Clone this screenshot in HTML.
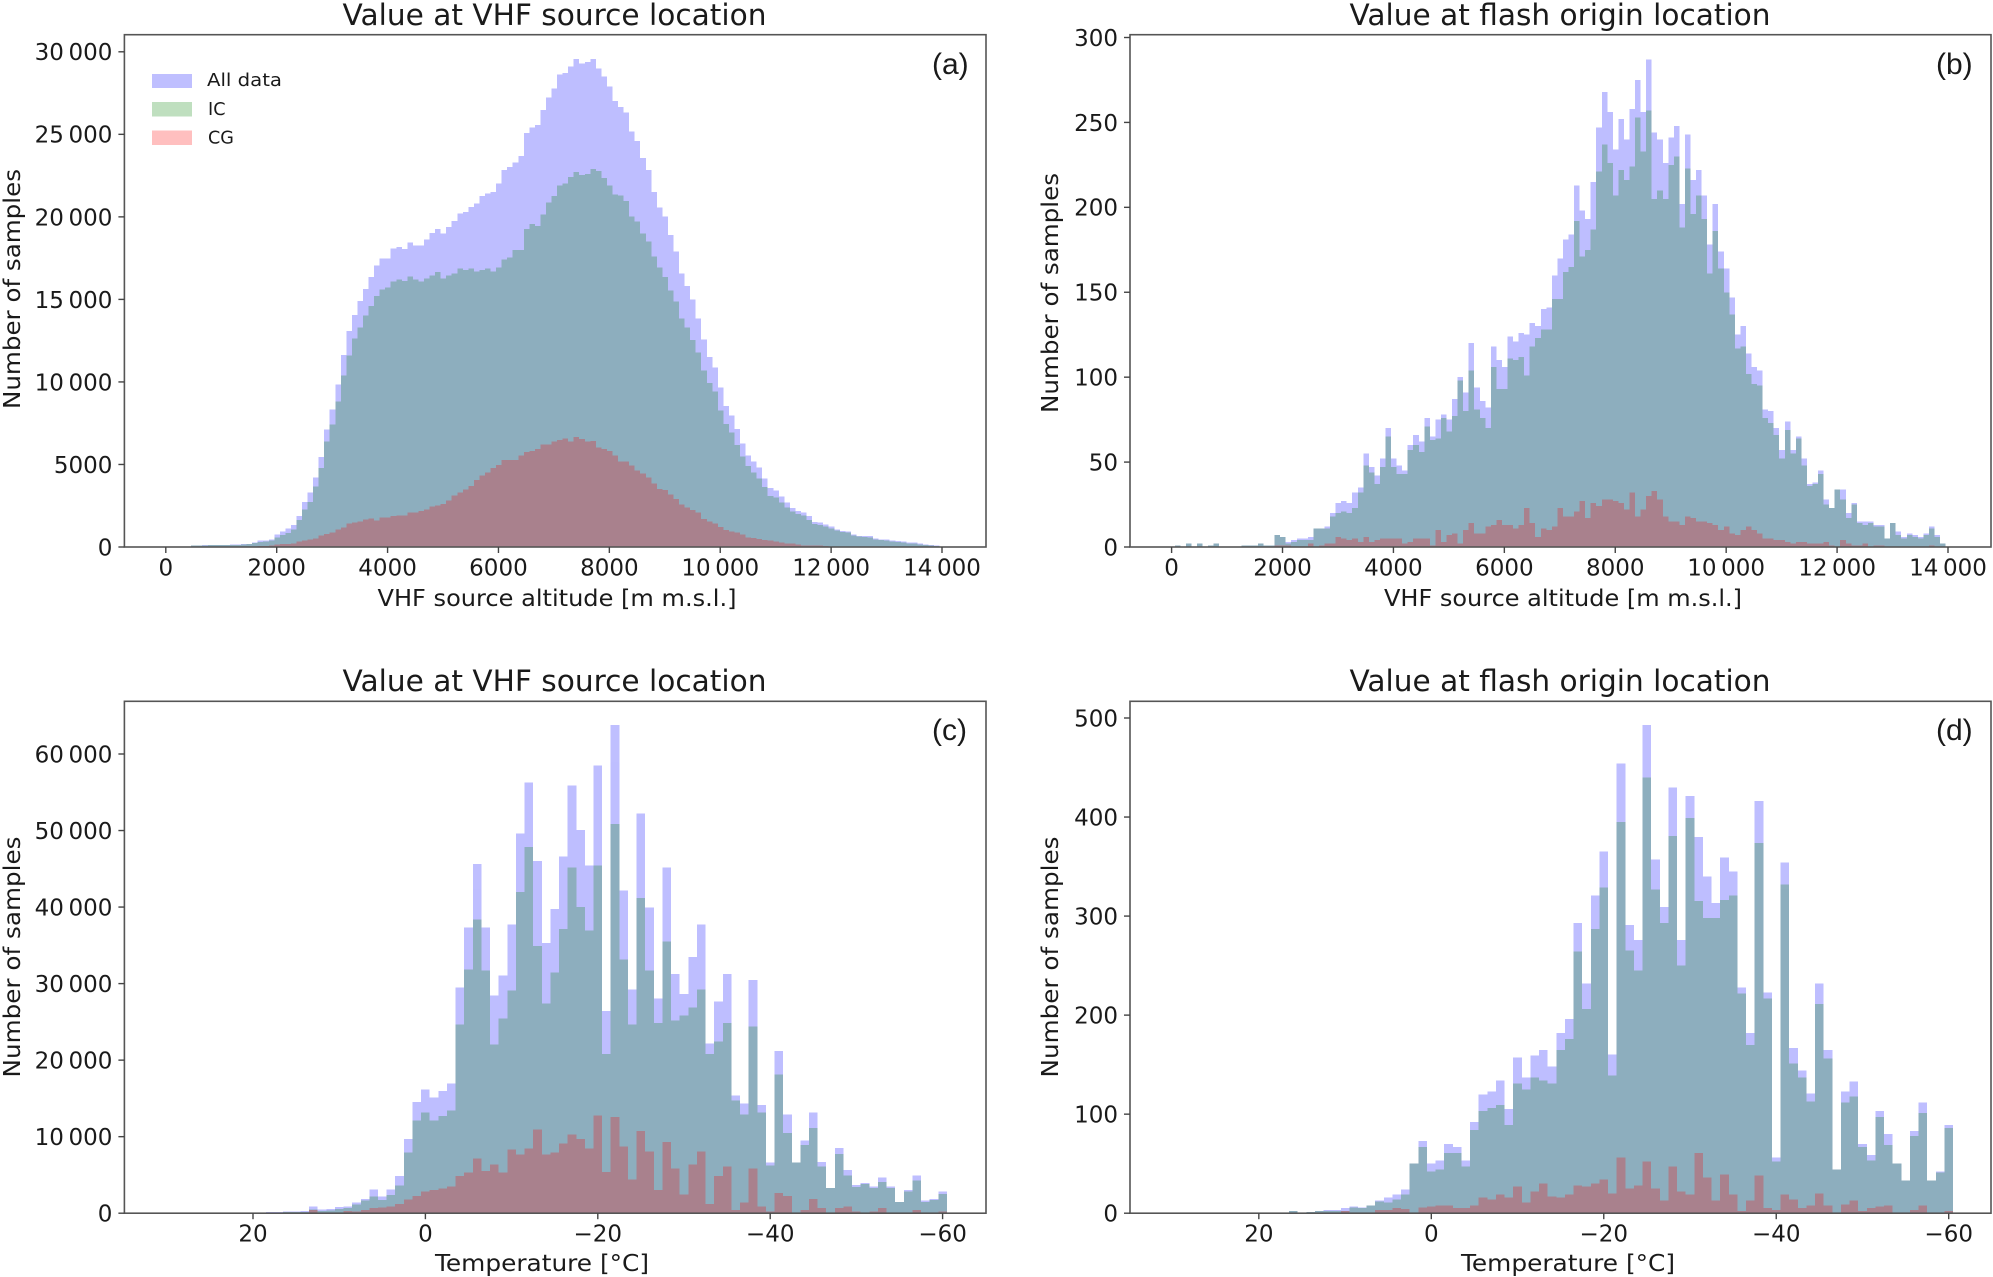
<!DOCTYPE html>
<html lang="en">
<head>
<meta charset="utf-8">
<title>VHF source and flash origin histograms</title>
<style>
html,body{margin:0;padding:0;background:#fff;}
svg{display:block;font-family:"DejaVu Sans","Liberation Sans",sans-serif;fill:#1a1a1a;}
.tick{font-size:23px;}
.title{font-size:29px;}
.axis-label{font-size:23px;}
.legend-text{font-size:17.6px;}
.tag{font-family:"Liberation Sans",sans-serif;font-size:30px;}
</style>
</head>
<body>
<svg id="figure" xmlns="http://www.w3.org/2000/svg" width="1993" height="1277" viewBox="0 0 1993 1277">
  <rect x="0" y="0" width="1993" height="1277" fill="#fff"/>

  <g id="panel-a"></g>
  <g id="panel-b"></g>
  <g id="panel-c"></g>
  <g id="panel-d"></g>

  <text class="title" x="554.5" y="25" text-anchor="middle" textLength="424" lengthAdjust="spacingAndGlyphs">Value at VHF source location</text>
  <text class="title" x="1560" y="25" text-anchor="middle" textLength="421" lengthAdjust="spacingAndGlyphs">Value at flash origin location</text>
  <text class="title" x="554.5" y="691" text-anchor="middle" textLength="424" lengthAdjust="spacingAndGlyphs">Value at VHF source location</text>
  <text class="title" x="1560" y="691" text-anchor="middle" textLength="421" lengthAdjust="spacingAndGlyphs">Value at flash origin location</text>

  <text class="axis-label" x="557" y="606" text-anchor="middle" textLength="359" lengthAdjust="spacingAndGlyphs">VHF source altitude [m m.s.l.]</text>
  <text class="axis-label" x="1563" y="606" text-anchor="middle" textLength="358" lengthAdjust="spacingAndGlyphs">VHF source altitude [m m.s.l.]</text>
  <text class="axis-label" x="542" y="1271" text-anchor="middle" textLength="214" lengthAdjust="spacingAndGlyphs">Temperature [°C]</text>
  <text class="axis-label" x="1568" y="1271" text-anchor="middle" textLength="214" lengthAdjust="spacingAndGlyphs">Temperature [°C]</text>

  <text class="axis-label" transform="translate(20 289) rotate(-90)" text-anchor="middle" textLength="240" lengthAdjust="spacingAndGlyphs">Number of samples</text>
  <text class="axis-label" transform="translate(1058 293) rotate(-90)" text-anchor="middle" textLength="240" lengthAdjust="spacingAndGlyphs">Number of samples</text>
  <text class="axis-label" transform="translate(20 957) rotate(-90)" text-anchor="middle" textLength="241" lengthAdjust="spacingAndGlyphs">Number of samples</text>
  <text class="axis-label" transform="translate(1058 957) rotate(-90)" text-anchor="middle" textLength="241" lengthAdjust="spacingAndGlyphs">Number of samples</text>

  <text class="tag" x="932" y="74">(a)</text>
  <text class="tag" x="1936" y="74">(b)</text>
  <text class="tag" x="932" y="740">(c)</text>
  <text class="tag" x="1936" y="740">(d)</text>

  <g>
    <g>
      <rect x="152" y="74" width="40" height="14" fill="#0000ff" fill-opacity="0.25"/>
      <text class="legend-text" x="207" y="86" textLength="75" lengthAdjust="spacingAndGlyphs">All data</text>
    </g>
    <g>
      <rect x="152" y="102" width="40" height="14.5" fill="#008000" fill-opacity="0.25"/>
      <text class="legend-text" x="208" y="115">IC</text>
    </g>
    <g>
      <rect x="152" y="130.5" width="40" height="14.5" fill="#ff0000" fill-opacity="0.25"/>
      <text class="legend-text" x="208" y="143.5">CG</text>
    </g>
  </g>
</svg>

<script>
// Panel (a): samples per 100 m altitude bin, first bin starts at 457 m
const aAll = [100,100,110,120,130,130,130,140,150,170,
190,280,380,380,460,770,950,1110,1330,1880,
2730,3310,4220,5450,7130,8340,9830,11630,13080,14050,
14900,15630,16370,17040,17480,17480,18070,18170,18050,18450,
18270,18270,18640,19020,19280,19000,19380,19750,20210,20290,
20590,20800,21260,21420,21520,22010,22830,23020,23300,23680,
25080,25420,25560,26470,27220,27780,28630,28710,29110,29560,
29280,29380,29560,28990,28490,27900,27030,26670,26310,25160,
24610,23580,22830,21520,20570,20010,18900,17890,16580,15810,
14980,13850,12580,11510,10860,9670,8540,7980,7150,6280,
5550,5190,4810,4160,3570,3410,3070,2690,2360,2180,
2100,1880,1510,1470,1370,1250,1070,970,950,750,
670,670,670,520,460,460,380,360,320,280,
260,200,160,120,80];
const aIC = [90,90,100,110,110,110,120,120,130,150,
170,240,310,320,380,590,730,850,1070,1640,
2260,2730,3670,4790,6400,7430,8820,10400,11610,12640,
13290,14030,14600,15220,15610,15730,16090,16210,16110,16390,
16210,16090,16270,16450,16660,16270,16450,16580,16860,16780,
16860,16680,16780,16860,16680,16940,17420,17530,17990,17990,
19260,19560,19460,20130,20860,21260,21910,22030,22430,22730,
22530,22590,22900,22790,22350,21910,21340,21300,20960,20030,
19730,19000,18510,17590,16940,16370,15530,14860,13850,13290,
12540,11790,10680,9950,9410,8260,7450,6950,6180,5470,
4910,4500,4160,3650,3090,2990,2710,2380,2140,2000,
1920,1640,1390,1330,1230,1130,990,910,870,690,
630,610,590,460,420,400,340,300,260,220,
200,140,120,80,60];
const aCG = [0,0,0,0,0,0,0,0,10,10,
20,30,50,60,80,150,170,180,200,320,
400,460,500,690,790,890,1070,1170,1430,1470,
1550,1660,1720,1620,1800,1800,1880,1920,1900,2080,
2080,2180,2280,2440,2520,2620,2810,3110,3290,3490,
3690,4060,4340,4520,4790,4970,5270,5270,5270,5550,
5750,5830,5940,6200,6220,6380,6480,6580,6380,6660,
6540,6400,6420,6040,5940,5810,5530,5190,5190,4930,
4620,4460,4200,3860,3510,3450,3190,2910,2560,2380,
2240,2100,1700,1550,1430,1210,1030,950,870,770,
590,550,480,420,380,340,280,220,200,160,
100,100,80,80,60,40,40,30,30,20,
20,10,10];

// Panel (b): samples per 100 m altitude bin, first bin starts at 57 m
const bAll = [1,0,2,0,2,0,1,2,0,0,
0,0,1,1,1,2,1,1,7,6,
3,4,5,5,6,11,11,12,20,26,
27,26,32,35,55,47,42,52,70,52,
48,45,60,66,62,76,65,75,78,75,
87,100,91,120,94,86,82,118,110,106,
124,121,126,125,132,130,140,141,160,170,
181,184,213,198,193,215,247,268,256,234,
252,240,258,275,256,287,244,240,226,241,
248,202,243,216,222,207,178,202,174,164,
147,125,130,114,106,104,81,80,70,57,
74,57,65,52,37,38,45,28,23,34,
34,20,26,15,15,15,13,13,5,14,
9,6,8,7,6,8,12,7,2];
const bIC = [1,0,2,0,2,0,1,2,0,0,
0,0,1,1,1,2,1,1,7,6,
2,3,4,4,4,11,11,11,18,20,
21,20,23,32,48,44,37,47,65,47,
43,43,57,60,56,71,63,64,76,68,
77,98,80,104,81,76,70,106,93,93,
111,110,112,101,118,123,128,128,146,146,
162,165,192,171,175,187,221,237,226,207,
222,216,224,253,233,257,205,210,205,225,
230,188,223,196,207,193,161,186,164,150,
137,117,118,102,96,95,76,73,66,52,
69,55,64,48,36,37,43,25,23,34,
28,17,25,14,13,14,12,12,5,14,
7,5,7,6,5,7,11,6,2];
const bCG = [0,0,0,0,0,0,0,0,0,0,
0,0,0,0,0,0,0,0,1,1,
1,0,0,0,2,0,1,2,2,6,
5,4,5,3,6,3,4,5,5,5,
5,2,3,5,5,5,1,10,3,7,
8,2,10,14,8,8,12,13,16,13,
13,11,13,23,14,6,11,10,12,23,
18,18,21,27,17,26,24,28,28,27,
26,22,32,18,22,30,33,28,18,15,
15,13,18,17,15,15,14,13,10,12,
8,7,10,12,10,8,5,5,4,4,
3,2,3,3,2,2,2,3,1,0,
4,2,1,1,2,0,1,1,0,0,
0,0,0,0,0,0,1,0,0];

// Panel (c): samples per 1 degree bin, from +18 down to -60 degrees C
const cAll = [160,160,210,210,265,850,480,530,800,900,
1430,1860,3080,2180,3080,4890,9700,14530,16190,15140,
15970,16930,29480,37320,45600,37320,28430,31050,37750,49610,
56270,45990,35320,39720,46600,55880,50040,45420,58490,26420,
63760,42150,29260,52210,39940,28040,45200,31270,28650,33490,
37720,22200,27650,31270,15360,14360,30440,14140,6650,21200,
12920,6600,9500,13160,6670,3270,8500,5660,3660,3920,
3490,4660,3490,1480,3050,4920,1660,1830,2830];
const cIC = [100,110,150,160,160,480,265,370,580,690,
1120,1650,2180,1750,2390,3610,7900,12090,13140,12140,
12710,13400,24640,31870,38360,31700,22030,25420,29090,41990,
47870,34930,27430,31480,37150,45200,39980,36930,45420,20810,
50870,33140,24640,41200,31700,24820,35530,25200,25810,26860,
29260,20810,22420,24820,14750,12920,24420,13140,6200,18150,
10480,6600,8890,11110,6100,3270,7710,4920,3400,3830,
3270,4100,3310,1480,2830,4270,1480,1700,2480];
const cCG = [0,0,0,0,20,400,100,100,100,320,
250,400,690,740,850,1200,1810,2250,2860,3030,
3250,3470,4870,5300,7130,5520,6340,5300,8300,7700,
8470,10910,7700,7920,9130,10310,9690,8470,12750,5410,
12570,8690,4430,10710,8080,3030,9300,5860,2420,6340,
8080,1200,4870,6120,420,1410,5860,850,200,2640,
2250,50,440,1830,650,0,650,870,200,0,
220,650,0,0,0,440,0,0,220];

// Panel (d): samples per 1 degree bin, from +18 down to -60 degrees C
const dAll = [0,0,2,0,1,2,3,3,5,7,
6,8,13,16,19,24,50,73,50,53,
70,67,53,92,120,123,134,105,157,137,
159,165,148,182,196,293,232,321,365,160,
454,291,276,493,357,309,430,276,421,380,
340,313,359,345,228,182,416,223,56,354,
167,144,121,232,165,44,123,133,70,59,
103,80,50,33,83,112,33,42,89];
const dIC = [0,0,2,0,1,2,2,2,2,6,
5,8,12,11,14,19,50,67,42,44,
61,61,47,84,103,106,109,89,131,125,
137,134,131,165,176,264,206,287,329,139,
395,265,245,440,327,293,381,250,399,315,
298,298,316,321,222,170,374,217,52,332,
151,137,113,211,156,44,112,118,67,53,
97,69,50,33,78,101,33,41,86];
const dCG = [0,0,0,0,0,0,0,0,2,0,
0,0,3,3,5,4,0,6,7,8,
8,5,5,8,16,14,19,16,27,11,
22,30,17,16,19,28,27,30,34,20,
56,25,28,52,25,13,47,22,19,61,
36,13,39,19,2,13,38,5,3,19,
14,5,8,20,8,0,9,13,2,5,
7,8,0,0,3,8,0,0,2];

// Tick labels
const altitudeTicks = [0,2000,4000,6000,8000,10000,12000,14000];
const temperatureTicks = [20,0,-20,-40,-60];
const aYTicks = [0,5000,10000,15000,20000,25000,30000];
const bYTicks = [0,50,100,150,200,250,300];
const cYTicks = [0,10000,20000,30000,40000,50000,60000];
const dYTicks = [0,100,200,300,400,500];

const SVG_NS = 'http://www.w3.org/2000/svg';

function linearScale(d0, r0, d1, r1) {
  return function (v) { return r0 + (v - d0) * (r1 - r0) / (d1 - d0); };
}

function formatTick(v) {
  const abs = Math.abs(v);
  let s = String(abs);
  if (abs >= 10000) { s = s.slice(0, s.length - 3) + '\u2009' + s.slice(s.length - 3); }
  return (v < 0 ? '\u2212' : '') + s;
}

function drawSeries(root, values, color, name, cfg, xScale, yScale) {
  const g = document.createElementNS(SVG_NS, 'g');
  
  
  g.setAttribute('opacity', '0.25');
  g.setAttribute('fill', color);
  g.setAttribute('shape-rendering', 'crispEdges');
  values.forEach(function (v, i) {
    const e0 = cfg.binStart + i * cfg.binStep;
    const x0 = xScale(e0);
    const x1 = xScale(e0 + cfg.binStep);
    const y = yScale(v);
    const bar = document.createElementNS(SVG_NS, 'rect');
    
    
    bar.setAttribute('x', Math.min(x0, x1));
    bar.setAttribute('y', y);
    bar.setAttribute('width', Math.abs(x1 - x0));
    bar.setAttribute('height', Math.max(0, yScale(0) - y));
    g.appendChild(bar);
  });
  root.appendChild(g);
}

function drawPanel(cfg) {
  const root = document.getElementById(cfg.id);
  const xScale = linearScale(cfg.xd0, cfg.xr0, cfg.xd1, cfg.xr1);
  const yScale = linearScale(0, cfg.yr0, cfg.yd1, cfg.yr1);

  drawSeries(root, cfg.all, '#0000ff', 'all-data', cfg, xScale, yScale);
  drawSeries(root, cfg.ic, '#008000', 'ic', cfg, xScale, yScale);
  drawSeries(root, cfg.cg, '#ff0000', 'cg', cfg, xScale, yScale);

  const frame = document.createElementNS(SVG_NS, 'rect');
  
  
  frame.setAttribute('x', cfg.left);
  frame.setAttribute('y', cfg.top);
  frame.setAttribute('width', cfg.right - cfg.left);
  frame.setAttribute('height', cfg.bottom - cfg.top);
  frame.setAttribute('fill', 'none');
  frame.setAttribute('stroke', '#555');
  frame.setAttribute('stroke-width', '1.6');
  root.appendChild(frame);

  cfg.xTicks.forEach(function (t) {
    const x = xScale(t);
    const mark = document.createElementNS(SVG_NS, 'line');
    
    
    mark.setAttribute('x1', x);
    mark.setAttribute('x2', x);
    mark.setAttribute('y1', cfg.bottom);
    mark.setAttribute('y2', cfg.bottom + 6);
    mark.setAttribute('stroke', '#444');
    mark.setAttribute('stroke-width', '1.4');
    root.appendChild(mark);
    const label = document.createElementNS(SVG_NS, 'text');
    
    
    label.setAttribute('class', 'tick');
    label.setAttribute('x', x);
    label.setAttribute('y', cfg.bottom + 28.5);
    label.setAttribute('text-anchor', 'middle');
    label.textContent = formatTick(t);
    root.appendChild(label);
  });

  cfg.yTicks.forEach(function (t) {
    const y = yScale(t);
    const mark = document.createElementNS(SVG_NS, 'line');
    
    
    mark.setAttribute('x1', cfg.left - 6);
    mark.setAttribute('x2', cfg.left);
    mark.setAttribute('y1', y);
    mark.setAttribute('y2', y);
    mark.setAttribute('stroke', '#444');
    mark.setAttribute('stroke-width', '1.4');
    root.appendChild(mark);
    const label = document.createElementNS(SVG_NS, 'text');
    
    
    label.setAttribute('class', 'tick');
    label.setAttribute('x', cfg.left - 12);
    label.setAttribute('y', y + 8.4);
    label.setAttribute('text-anchor', 'end');
    label.textContent = formatTick(t);
    root.appendChild(label);
  });
}

drawPanel({id:'panel-a', all:aAll, ic:aIC, cg:aCG, xTicks:altitudeTicks, yTicks:aYTicks,
  binStart:457, binStep:100, left:124.4, right:986, top:34.7, bottom:547,
  xd0:0, xr0:165.8, xd1:14000, xr1:942, yr0:547, yd1:30000, yr1:51.8});
drawPanel({id:'panel-b', all:bAll, ic:bIC, cg:bCG, xTicks:altitudeTicks, yTicks:bYTicks,
  binStart:57, binStep:100, left:1130, right:1991, top:34.7, bottom:547,
  xd0:0, xr0:1171.6, xd1:14000, xr1:1948, yr0:547, yd1:300, yr1:37.5});
drawPanel({id:'panel-c', all:cAll, ic:cIC, cg:cCG, xTicks:temperatureTicks, yTicks:cYTicks,
  binStart:18.5, binStep:-1, left:124.4, right:986, top:701.3, bottom:1213.2,
  xd0:0, xr0:425.4, xd1:-60, xr1:942.6, yr0:1213.2, yd1:60000, yr1:754});
drawPanel({id:'panel-d', all:dAll, ic:dIC, cg:dCG, xTicks:temperatureTicks, yTicks:dYTicks,
  binStart:18.5, binStep:-1, left:1130, right:1991, top:701.3, bottom:1213.2,
  xd0:0, xr0:1431.3, xd1:-60, xr1:1948.7, yr0:1213.2, yd1:500, yr1:718});
</script>
</body>
</html>
